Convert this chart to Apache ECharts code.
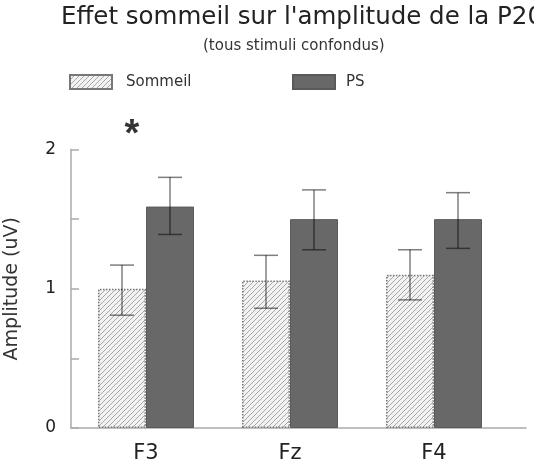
<!DOCTYPE html>
<html>
<head>
<meta charset="utf-8">
<script src="https://cdn.jsdelivr.net/npm/echarts@6/dist/echarts.min.js"></script>
<style>
  html, body { margin: 0; padding: 0; background: #fff; }
  #chart { width: 534px; height: 462px; }
</style>
</head>
<body>
<div id="chart"></div>
<script>
// electrodes
var categories = ['F3', 'Fz', 'F4'];
// mean amplitude (uV)
var sommeil = [1.00, 1.06, 1.10];
var ps = [1.59, 1.50, 1.50];
// error bar ends
var sommeilLow = [0.81, 0.86, 0.92];
var sommeilHigh = [1.17, 1.24, 1.28];
var psLow = [1.39, 1.28, 1.29];
var psHigh = [1.80, 1.71, 1.69];
var yTicks = [0, 1, 2];
var starPoints = [[0, 2.1]];

var font = 'DejaVu Sans';

// hatch pattern for the Sommeil bars
var hatch = document.createElement('canvas');
hatch.width = 5;
hatch.height = 5;
var hctx = hatch.getContext('2d');
hctx.fillStyle = '#f2f2f2';
hctx.fillRect(0, 0, 5, 5);
hctx.strokeStyle = '#a8a8a8';
hctx.lineWidth = 1;
hctx.beginPath();
hctx.moveTo(-1, 6); hctx.lineTo(6, -1);
hctx.moveTo(-1, 1); hctx.lineTo(1, -1);
hctx.moveTo(4, 6); hctx.lineTo(6, 4);
hctx.stroke();

function errData(low, high) {
    var out = [];
    for (var i = 0; i < low.length; i++) {
        out.push([i, low[i], high[i]]);
    }
    return out;
}

function errRenderer(offset) {
    return function (params, api) {
        var lo = api.coord([api.value(0), api.value(1)]);
        var hi = api.coord([api.value(0), api.value(2)]);
        var x = lo[0] + offset;
        var cap = 12;
        var style = { stroke: 'rgba(0,0,0,0.5)', lineWidth: 1.5 };
        return {
            type: 'group',
            children: [
                { type: 'line', shape: { x1: x, y1: lo[1], x2: x, y2: hi[1] }, style: style },
                { type: 'line', shape: { x1: x - cap, y1: lo[1], x2: x + cap, y2: lo[1] }, style: style },
                { type: 'line', shape: { x1: x - cap, y1: hi[1], x2: x + cap, y2: hi[1] }, style: style }
            ]
        };
    };
}

var chart = echarts.init(document.getElementById('chart'));
var option = {
    backgroundColor: '#fff',
    animation: false,
    title: [{
        text: "Effet sommeil sur l'amplitude de la P200",
        left: 61,
        top: 5,
        padding: 0,
        textStyle: { fontFamily: font, fontSize: 24.5, fontWeight: 'normal', color: '#222' }
    }, {
        text: '(tous stimuli confondus)',
        left: 203,
        top: 39,
        padding: 0,
        textStyle: { fontFamily: font, fontSize: 15, fontWeight: 'normal', color: '#333' }
    }],
    legend: [{
        data: ['Sommeil'],
        left: 69,
        top: 74,
        padding: 0,
        icon: 'rect',
        itemWidth: 42,
        itemHeight: 14,
        textStyle: { fontFamily: font, fontSize: 15, color: '#333', padding: [0, 0, 0, 9] }
    }, {
        data: ['PS'],
        left: 292,
        top: 74,
        padding: 0,
        icon: 'rect',
        itemWidth: 42,
        itemHeight: 14,
        textStyle: { fontFamily: font, fontSize: 15, color: '#333', padding: [0, 0, 0, 6] }
    }],
    grid: [
        { left: 74, width: 432, top: 149.5, bottom: 34, outerBoundsMode: 'none' },
        { left: 71, right: 8, top: 149.5, bottom: 34, outerBoundsMode: 'none' }
    ],
    xAxis: [{
        type: 'category',
        gridIndex: 0,
        data: categories,
        axisLine: { show: false },
        axisTick: { show: false },
        axisLabel: { fontFamily: font, fontSize: 21, color: '#222', margin: 15 }
    }, {
        type: 'value',
        gridIndex: 1,
        min: 0,
        max: 1,
        axisLine: { show: true, lineStyle: { color: '#aaa', width: 1.5 } },
        axisTick: { show: false },
        axisLabel: { show: false },
        splitLine: { show: false }
    }],
    yAxis: [{
        type: 'value',
        gridIndex: 0,
        min: 0,
        max: 2,
        show: false
    }, {
        type: 'value',
        gridIndex: 1,
        min: 0,
        max: 2,
        interval: 0.5,
        name: 'Amplitude (uV)',
        nameLocation: 'middle',
        nameGap: 49,
        nameTextStyle: { fontFamily: font, fontSize: 19, color: '#333' },
        axisLine: { show: true, lineStyle: { color: '#aaa', width: 1.5 } },
        axisTick: { show: true, inside: true, length: 8, lineStyle: { color: '#aaa', width: 1.5 } },
        axisLabel: {
            fontFamily: font,
            fontSize: 17,
            color: '#222',
            margin: 15,
            formatter: function (v) {
                return yTicks.indexOf(v) >= 0 ? String(v) : '';
            }
        },
        splitLine: { show: false }
    }],
    series: [{
        name: 'Sommeil',
        type: 'bar',
        xAxisIndex: 0,
        yAxisIndex: 0,
        data: sommeil,
        barWidth: 48,
        barGap: '0%',
        itemStyle: {
            color: { image: hatch, repeat: 'repeat' },
            borderColor: '#777',
            borderWidth: 1.5,
            borderType: 'dotted'
        }
    }, {
        name: 'PS',
        type: 'bar',
        xAxisIndex: 0,
        yAxisIndex: 0,
        data: ps,
        barWidth: 48,
        barGap: '0%',
        itemStyle: { color: '#686868', borderColor: '#5a5a5a', borderWidth: 1 }
    }, {
        type: 'custom',
        xAxisIndex: 0,
        yAxisIndex: 0,
        z: 5,
        encode: { x: 0, y: [1, 2] },
        data: errData(sommeilLow, sommeilHigh),
        renderItem: errRenderer(-24)
    }, {
        type: 'custom',
        xAxisIndex: 0,
        yAxisIndex: 0,
        z: 5,
        encode: { x: 0, y: [1, 2] },
        data: errData(psLow, psHigh),
        renderItem: errRenderer(24)
    }, {
        type: 'scatter',
        xAxisIndex: 0,
        yAxisIndex: 0,
        clip: false,
        symbolSize: 0,
        data: starPoints,
        label: {
            show: true,
            position: 'inside',
            offset: [-14, 0],
            formatter: '*',
            fontFamily: 'Liberation Sans',
            fontSize: 38,
            fontWeight: 'bold',
            color: '#000'
        }
    }]
};
chart.setOption(option);
</script>
</body>
</html>
